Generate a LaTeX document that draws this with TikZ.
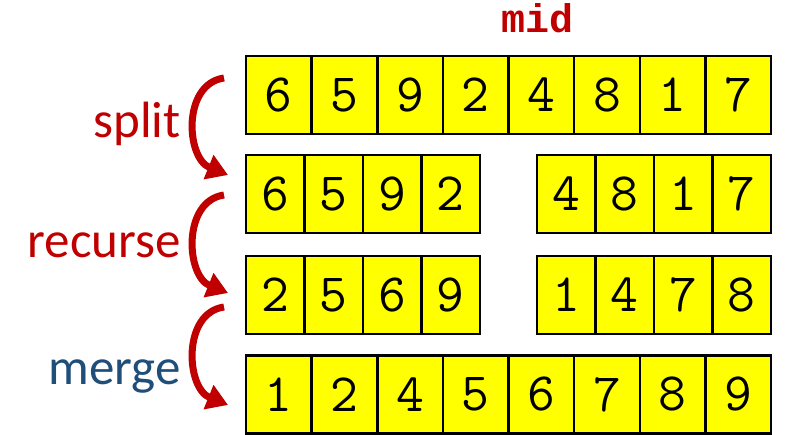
\documentclass[tikz,border=0pt]{standalone}
\usepackage{fontspec}
\setmainfont{Carlito}
\newfontfamily\midfont{Liberation Mono}
\usetikzlibrary{arrows.meta}
\definecolor{darkred}{HTML}{C00000}
\definecolor{navyblue}{HTML}{1F4E79}
\definecolor{celly}{HTML}{FFFF00}
\tikzset{
  cellbox/.style={draw=black, line width=2.5pt, fill=celly, inner sep=0pt,
    minimum height=78pt, font=\ttfamily\fontsize{54}{54}\selectfont},
  widecell/.style={cellbox, minimum width=65.625pt},
  narrowcell/.style={cellbox, minimum width=58.5pt},
  steplabel/.style={anchor=base east, inner sep=0pt, font=\fontsize{51}{51}\selectfont},
  bendarrow/.style={draw=darkred, line width=7pt, -{Triangle[length=21pt,width=25pt]}}
}
\begin{document}
\begin{tikzpicture}[x=1pt,y=-1pt]
\useasboundingbox (0,0) rectangle (788,435);
% row 1
\foreach \v [count=\i] in {6,5,9,2,4,8,1,7}
  \node[widecell] (a\i) at ({246+65.625*(\i-0.5)},95) {\v};
% row 2
\foreach \v [count=\i] in {6,5,9,2}
  \node[narrowcell] (b\i) at ({246+58.5*(\i-0.5)},194) {\v};
\foreach \v [count=\i from 5] in {4,8,1,7}
  \node[narrowcell] (b\i) at ({537+58.5*(\i-4.5)},194) {\v};
% row 3
\foreach \v [count=\i] in {2,5,6,9}
  \node[narrowcell] (c\i) at ({246+58.5*(\i-0.5)},295) {\v};
\foreach \v [count=\i from 5] in {1,4,7,8}
  \node[narrowcell] (c\i) at ({537+58.5*(\i-4.5)},295) {\v};
% row 4
\foreach \v [count=\i] in {1,2,4,5,6,7,8,9}
  \node[widecell] (d\i) at ({246+65.625*(\i-0.5)},394.5) {\v};
% mid label
\node[anchor=base, inner sep=0pt, text=darkred,
  font=\midfont\bfseries\fontsize{40}{40}\selectfont] (mid) at (538,33) {mid};
% step labels
\node[steplabel, text=darkred] (split) at (181,138) {split};
\node[steplabel, text=darkred] (recurse) at (181,258) {recurse};
\node[steplabel, text=navyblue] (merge) at (181,385) {merge};
% arrows
\coordinate (s1) at (224,78);  \coordinate (e1) at (228,175);
\coordinate (s2) at (224,195); \coordinate (e2) at (228,293);
\coordinate (s3) at (224,307); \coordinate (e3) at (228,405);
\draw[bendarrow] (s1) .. controls +(-42,6) and +(-42,-17) .. (e1);
\draw[bendarrow] (s2) .. controls +(-42,6) and +(-42,-17) .. (e2);
\draw[bendarrow] (s3) .. controls +(-42,6) and +(-42,-17) .. (e3);
\end{tikzpicture}
\end{document}
